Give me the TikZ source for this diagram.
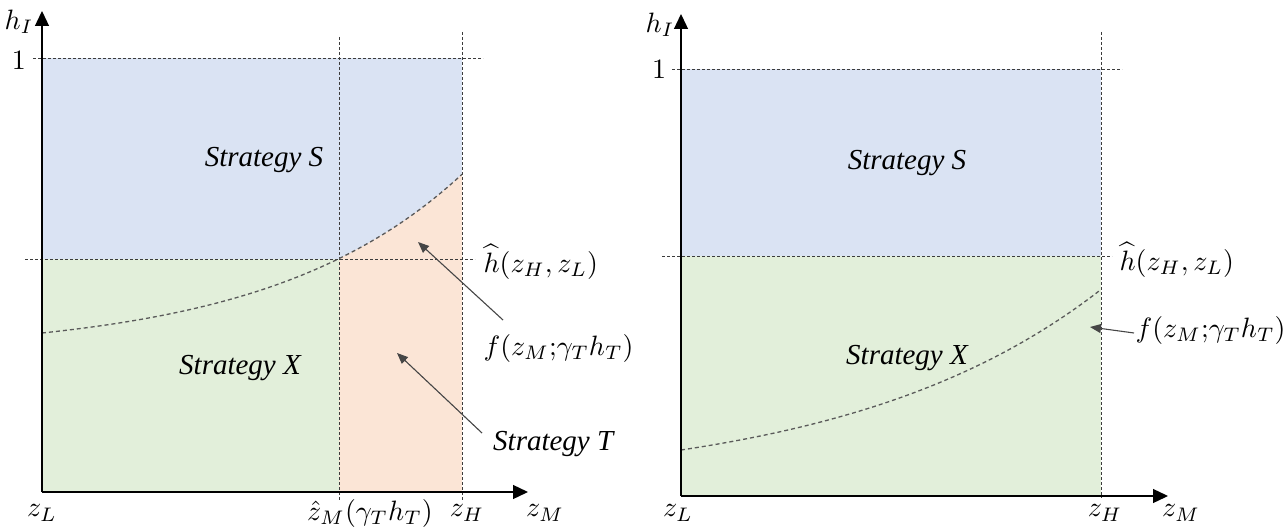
\documentclass[tikz,border=0pt]{standalone}
\usepackage{fontspec}
\setmainfont{Liberation Serif}
\newfontfamily\strfont{Liberation Serif}[ItalicFont={Liberation Serif Italic}]
\usetikzlibrary{arrows.meta}
\definecolor{sblue}{RGB}{218,227,243}
\definecolor{sgreen}{RGB}{226,239,218}
\definecolor{sorange}{RGB}{251,229,214}
\definecolor{dashgray}{RGB}{60,60,60}
\definecolor{curvegray}{RGB}{90,90,90}
\definecolor{conngray}{RGB}{70,70,70}
\tikzset{
  axisline/.style={line width=1.3pt, black, -{Triangle[length=15pt,width=14pt]}},
  guide/.style={line width=0.9pt, dashgray, dash pattern=on 3pt off 2pt},
  fcurve/.style={line width=1.3pt, curvegray, dash pattern=on 4pt off 3pt},
  conn/.style={line width=1.1pt, conngray, -{Triangle[length=11pt,width=9pt]}},
  mlabel/.style={inner sep=0pt, scale=2.8, font=\fontsize{10}{12}\selectfont},
  slabel/.style={inner sep=0pt, font=\fontsize{29}{33}\selectfont\strfont\itshape},
}
\begin{document}
\begin{tikzpicture}[x=1pt,y=-1pt]
\useasboundingbox (0,0) rectangle (1284,532);
% ---------------- Left panel ----------------
\fill[sblue] (42,58) rectangle (462,259);
\fill[sgreen] (42,259) rectangle (339,492);
\fill[sorange] (339,492) -- (339,259)
  -- plot[domain=339:462, samples=40] (\x, {492-(138.6+20.4*exp(0.00518*(\x-42)))})
  -- (462,492) -- cycle;
\draw[guide] (33,58) -- (483,58);
\draw[guide] (25,259) -- (475,259);
\draw[guide] (339,37) -- (339,500);
\draw[guide] (462,32) -- (462,500);
\draw[fcurve] plot[domain=42:462, samples=60] (\x, {492-(138.6+20.4*exp(0.00518*(\x-42)))});
\coordinate (oL) at (42,492);
\coordinate (yL) at (42,11);
\coordinate (xL) at (528,492);
\draw[axisline] (oL) -- (yL);
\draw[axisline] (oL) -- (xL);
\node[mlabel] (hIL) at (19,22) {$h_I$};
\node[mlabel] (oneL) at (19,60) {$1$};
\node[slabel] (SL) at (264,160) {Strategy S};
\node[slabel] (XL) at (240,368) {Strategy X};
\node[slabel, anchor=west] (TL) at (493,444) {Strategy T};
\node[mlabel, anchor=west] (hhL) at (483,262) {$\widehat{h}(z_H,z_L)$};
\node[mlabel, anchor=west] (fL) at (483,348) {$f(z_M\mathord{;}\gamma_T h_T)$};
\node[mlabel] (zLL) at (42,513) {$z_L$};
\node[mlabel] (zMhat) at (370,513) {$\hat{z}_M(\gamma_T h_T)$};
\node[mlabel] (zHL) at (467,513) {$z_H$};
\node[mlabel] (zML) at (545,513) {$z_M$};
\coordinate (a1s) at (503,320);
\coordinate (a1e) at (418,242);
\coordinate (a2s) at (482,433);
\coordinate (a2e) at (397,353);
\draw[conn] (a1s) -- (a1e);
\draw[conn] (a2s) -- (a2e);
% ---------------- Right panel ----------------
\fill[sblue] (681,69) rectangle (1101,256);
\fill[sgreen] (681,256) rectangle (1101,496);
\draw[guide] (672,69) -- (1122,69);
\draw[guide] (662,256) -- (1112,256);
\draw[guide] (1101,32) -- (1101,498);
\draw[fcurve] plot[domain=681:1101, samples=60] (\x, {496-(7.4+38.6*exp(0.0039*(\x-681)))});
\coordinate (oR) at (681,496);
\coordinate (yR) at (681,14);
\coordinate (xR) at (1168,496);
\draw[axisline] (oR) -- (yR);
\draw[axisline] (oR) -- (xR);
\node[mlabel] (hIR) at (660,25) {$h_I$};
\node[mlabel] (oneR) at (659,69) {$1$};
\node[slabel] (SR) at (907,163) {Strategy S};
\node[slabel] (XR) at (907,358) {Strategy X};
\node[mlabel, anchor=west] (hhR) at (1119,260) {$\widehat{h}(z_H,z_L)$};
\node[mlabel, anchor=west] (fR) at (1135,330) {$f(z_M\mathord{;}\gamma_T h_T)$};
\node[mlabel] (zLR) at (678,513) {$z_L$};
\node[mlabel] (zHR) at (1105,513) {$z_H$};
\node[mlabel] (zMR) at (1181,513) {$z_M$};
\coordinate (a3s) at (1134,333);
\coordinate (a3e) at (1090,327);
\draw[conn] (a3s) -- (a3e);
\end{tikzpicture}
\end{document}
